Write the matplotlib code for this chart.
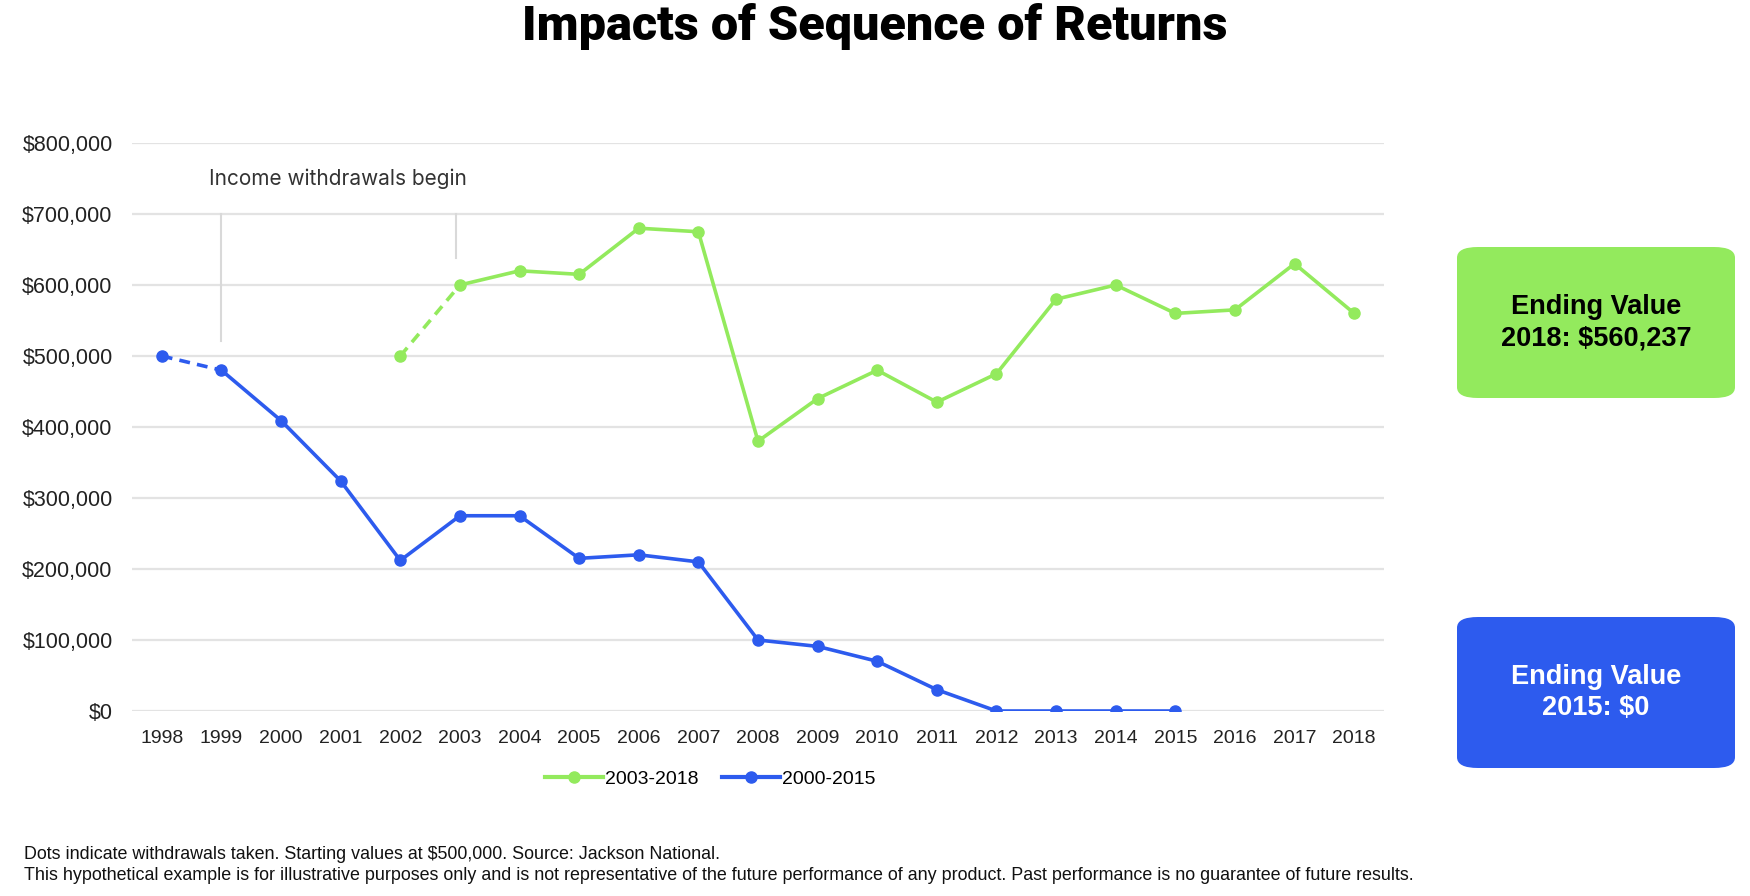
import numpy as np
import matplotlib
matplotlib.use("Agg")
import matplotlib.pyplot as plt
from matplotlib.patches import FancyBboxPatch
from matplotlib.lines import Line2D

# data
years = list(range(1998, 2019))
blue_years = list(range(1998, 2016))
blue_vals = [500000, 480000, 409000, 324000, 212000, 275000, 275000, 215000, 220000,
             210000, 100000, 91000, 70000, 30000, 0, 0, 0, 0]
green_years = list(range(2002, 2019))
green_vals = [500000, 600000, 620000, 615000, 680000, 675000, 380000, 440000, 480000,
              435000, 475000, 580000, 600000, 560000, 565000, 630000, 560000]
yticks = list(range(0, 800001, 100000))

GREEN = "#93EA5D"
BLUE = "#2D5BEE"
plt.rcParams['font.family'] = ['Liberation Sans', 'DejaVu Sans']

fig = plt.figure(figsize=(17.5, 8.96), dpi=100)
ax = fig.add_axes([132/1750, 1-711/896, (1384-132)/1750, (711-143)/896])

# dashed first segment, solid rest
ax.plot(blue_years[:2], blue_vals[:2], color=BLUE, lw=2.6, ls=(0, (3, 2)))
ax.plot(blue_years[1:], blue_vals[1:], color=BLUE, lw=2.6)
ax.plot(blue_years, blue_vals, 'o', color=BLUE, ms=8, zorder=3)
ax.plot(green_years[:2], green_vals[:2], color=GREEN, lw=2.6, ls=(0, (3, 2)))
ax.plot(green_years[1:], green_vals[1:], color=GREEN, lw=2.6)
ax.plot(green_years, green_vals, 'o', color=GREEN, ms=8, zorder=3)

# marker lines for withdrawals start
ax.plot([1999, 1999], [521000, 700000], color="#d9d9d9", lw=1.5, zorder=1)
ax.plot([2003 - 0.07, 2003 - 0.07], [638000, 700000], color="#d9d9d9", lw=1.5, zorder=1)
ax.text(1998.79, 749000, "Income withdrawals begin", fontsize=15, color="#333333",
        family=['Inter', 'DejaVu Sans'], va='center', ha='left')

ax.set_xlim(1997.5, 2018.5)
ax.set_ylim(0, 800000)
ax.set_xticks(years)
ax.set_xticklabels([str(y) for y in years])
ax.set_yticks(yticks)
ax.set_yticklabels(["$" + format(v, ",") for v in yticks])
ax.tick_params(length=0, labelsize=14, colors="#222222")
ax.tick_params(axis='y', pad=14, labelsize=15.5)
ax.tick_params(axis='x', pad=14)
ax.grid(axis='y', color="#e3e3e3", lw=1.6)
ax.set_axisbelow(True)
for s in ax.spines.values():
    s.set_visible(False)

handles = [Line2D([], [], color=GREEN, lw=3, marker='o', ms=8),
           Line2D([], [], color=BLUE, lw=3, marker='o', ms=8)]
fig.legend(handles, ["2003-2018", "2000-2015"], loc='center', bbox_to_anchor=(710/1750, 1-779/896),
           ncol=2, frameon=False, fontsize=14, handlelength=3, handletextpad=0.1, columnspacing=1.2)

fig.text(0.5, 1-27/896, "Impacts of Sequence of Returns", ha='center', va='center',
         fontsize=35, fontweight='black', family=['Roboto', 'Liberation Sans'])

# ending value boxes
for y0, y1, col, tcol, txt in [(247, 398, GREEN, "black", "Ending Value\n2018: $560,237"),
                               (617, 768, BLUE, "white", "Ending Value\n2015: $0")]:
    box = FancyBboxPatch((1457/1750, 1-y1/896), (1735-1457)/1750, (y1-y0)/896,
                         boxstyle="round,pad=0,rounding_size=0.012", transform=fig.transFigure,
                         facecolor=col, edgecolor='none')
    fig.patches.append(box)
    fig.text(1596/1750, 1-(y0+y1)/2/896, txt, ha='center', va='center', fontsize=19.5,
             fontweight='bold', color=tcol, linespacing=1.25)

fig.text(24/1750, 1-854/896, "Dots indicate withdrawals taken. Starting values at $500,000. Source: Jackson National.",
         fontsize=12.9, va='center', color="#111111")
fig.text(24/1750, 1-875/896, "This hypothetical example is for illustrative purposes only and is not representative of the future performance of any product. Past performance is no guarantee of future results.",
         fontsize=12.9, va='center', color="#111111")

fig.savefig("out.png", dpi=100)
